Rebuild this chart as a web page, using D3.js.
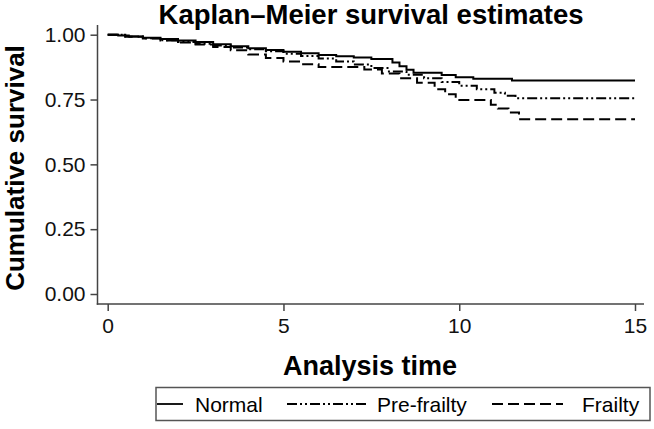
<!DOCTYPE html>
<html><head><meta charset="utf-8">
<script src="https://cdn.jsdelivr.net/npm/d3@7"></script>
<style>body{margin:0;background:#fff;} svg{display:block;font-family:"Liberation Sans",Arial,sans-serif;}</style>
</head><body><svg id="c" width="654" height="429"></svg>
<script>
// Data
const xTicks = [0, 5, 10, 15];
const yTicks = [0, 0.25, 0.5, 0.75, 1.0];
const seriesNames = ["Normal", "Pre-frailty", "Frailty"];
const normalT = [0, 0.3, 0.6, 1.0, 1.5, 2.0, 2.5, 3.0, 3.5, 4.0, 4.5, 5.0, 5.5, 6.0, 6.5, 7.0, 7.5, 8.1, 8.3, 8.5, 8.7, 9.5, 9.9, 10.4, 11.5];
const normalS = [1.0, 0.997, 0.993, 0.988, 0.983, 0.978, 0.972, 0.963, 0.955, 0.948, 0.941, 0.934, 0.928, 0.922, 0.917, 0.912, 0.906, 0.893, 0.878, 0.865, 0.853, 0.845, 0.836, 0.83, 0.823];
const preT = [0, 0.5, 1.0, 1.5, 2.0, 2.5, 3.0, 3.5, 4.0, 4.5, 5.0, 5.5, 6.0, 6.5, 7.0, 7.5, 8.0, 8.5, 9.0, 9.5, 10.0, 10.5, 11.0, 11.3, 11.6];
const preS = [1.0, 0.993, 0.986, 0.979, 0.972, 0.965, 0.958, 0.951, 0.944, 0.936, 0.927, 0.918, 0.908, 0.897, 0.885, 0.872, 0.858, 0.846, 0.832, 0.818, 0.803, 0.79, 0.776, 0.765, 0.755];
const frailT = [0, 0.5, 1.0, 1.5, 2.0, 2.5, 3.0, 3.5, 4.0, 4.5, 5.0, 5.5, 6.0, 7.3, 7.8, 8.3, 8.8, 9.3, 9.6, 9.9, 10.9, 11.1, 11.4, 11.7];
const frailS = [1.0, 0.992, 0.985, 0.978, 0.97, 0.962, 0.953, 0.94, 0.924, 0.91, 0.897, 0.886, 0.875, 0.866, 0.85, 0.832, 0.815, 0.79, 0.77, 0.748, 0.73, 0.715, 0.70, 0.674];
const tMax = 15;

const svg = d3.select("#c");
const x = d3.scaleLinear().domain([0, 15]).range([107.7, 635]);
const y = d3.scaleLinear().domain([0, 1]).range([294, 34.7]);
const axisColor = "#444";

// Title
svg.append("text").attr("x", 371).attr("y", 24).attr("text-anchor", "middle")
  .attr("font-weight", "bold").attr("font-size", 27.5).text("Kaplan\u2013Meier survival estimates");

// Axes
const left = 97.5, bottom = 304;
svg.append("line").attr("x1", left).attr("x2", left).attr("y1", 25).attr("y2", bottom + 0.75)
  .attr("stroke", axisColor).attr("stroke-width", 1.5);
svg.append("line").attr("x1", left - 0.75).attr("x2", 644).attr("y1", bottom).attr("y2", bottom)
  .attr("stroke", axisColor).attr("stroke-width", 1.5);

const yAxis = svg.append("g").attr("transform", `translate(${left},0)`)
  .call(d3.axisLeft(y).tickValues(yTicks).tickFormat(d3.format(".2f")).tickSize(7).tickPadding(5));
yAxis.select(".domain").remove();
yAxis.selectAll("line").attr("stroke", axisColor).attr("stroke-width", 1.5);
yAxis.selectAll("text").attr("font-size", 21).attr("font-family", "Liberation Sans, Arial, sans-serif").attr("fill", "#111");

const xAxis = svg.append("g").attr("transform", `translate(0,${bottom})`)
  .call(d3.axisBottom(x).tickValues(xTicks).tickFormat(d3.format("d")).tickSize(7).tickPadding(7));
xAxis.select(".domain").remove();
xAxis.selectAll("line").attr("stroke", axisColor).attr("stroke-width", 1.5);
xAxis.selectAll("text").attr("font-size", 21).attr("font-family", "Liberation Sans, Arial, sans-serif").attr("fill", "#111");

// Axis titles
svg.append("text").attr("x", 370).attr("y", 375).attr("text-anchor", "middle")
  .attr("font-weight", "bold").attr("font-size", 27).text("Analysis time");
svg.append("text").attr("transform", "translate(23.5,168) rotate(-90)").attr("text-anchor", "middle")
  .attr("font-weight", "bold").attr("font-size", 26).text("Cumulative survival");

// Curves
const dashes = ["none", "10,3,2,3,2,3", "11,5"];
const line = d3.line().x(d => x(d[0])).y(d => y(d[1])).curve(d3.curveStepAfter);
function pts(T, S) { const p = T.map((t, i) => [t, S[i]]); p.push([tMax, S[S.length - 1]]); return p; }
const series = [pts(normalT, normalS), pts(preT, preS), pts(frailT, frailS)];
series.forEach((p, i) => {
  svg.append("path").attr("d", line(p)).attr("fill", "none").attr("stroke", "#000")
    .attr("stroke-width", 2).attr("stroke-dasharray", dashes[i]);
});

// Legend
const lg = svg.append("g");
lg.append("rect").attr("x", 156).attr("y", 387.5).attr("width", 494).attr("height", 33)
  .attr("fill", "#fff").attr("stroke", "#555").attr("stroke-width", 1.5);
const keys = [[157, 183, 195], [287, 367, 377], [492, 563, 582]];
const ly = 404;
keys.forEach((k, i) => {
  lg.append("line").attr("x1", k[0]).attr("x2", k[1]).attr("y1", ly).attr("y2", ly)
    .attr("stroke", "#000").attr("stroke-width", 1.8).attr("stroke-dasharray", dashes[i]);
  lg.append("text").attr("x", k[2]).attr("y", 411.5).attr("font-size", 21).text(seriesNames[i]);
});
</script></body></html>
